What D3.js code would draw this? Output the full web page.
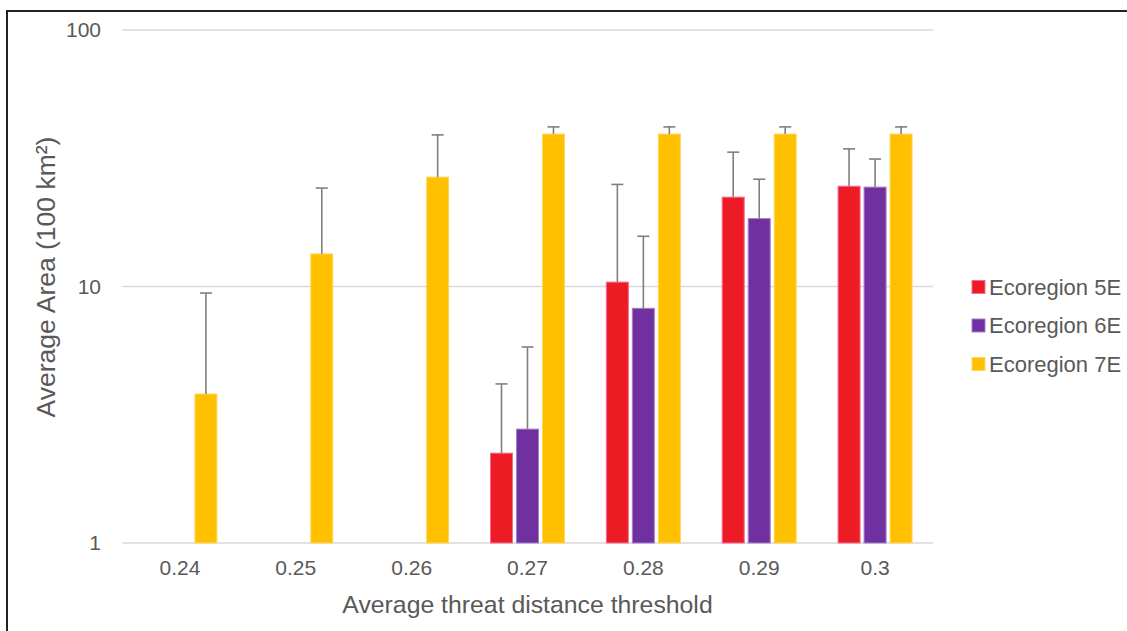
<!DOCTYPE html>
<html><head><meta charset="utf-8">
<script src="https://cdn.jsdelivr.net/npm/d3@7"></script>
<style>body{margin:0;background:#fff;}svg{display:block;font-family:"Liberation Sans",Arial,sans-serif;}</style>
</head><body>
<svg id="c" width="1127" height="631"></svg>
<script>
const categories = ["0.24","0.25","0.26","0.27","0.28","0.29","0.3"];
const seriesNames = ["Ecoregion 5E","Ecoregion 6E","Ecoregion 7E"];
const eco5 = [null,null,null,2.24,10.4,22.3,24.6];
const eco5Err = [null,null,null,1.93,14.6,11.1,9.8];
const eco6 = [null,null,null,2.78,8.22,18.4,24.4];
const eco6Err = [null,null,null,3.03,7.48,7.8,7.0];
const eco7 = [3.81,13.4,26.7,39.3,39.3,39.3,39.3];
const eco7Err = [5.62,10.8,12.3,2.6,2.6,2.6,2.6];
const yTicks = [1,10,100];
const colors = ["#ED1C24","#7030A0","#FFC000"];
const strokes = ["#f46a96","#a57fc9","#ffd75e"];

const svg = d3.select("#c");
const L=122,R=933,T=30,B=543;
// frame
svg.append("line").attr("x1",7).attr("x2",7).attr("y1",10).attr("y2",631).attr("stroke","#222").attr("stroke-width",2);
svg.append("line").attr("x1",6).attr("x2",1127).attr("y1",11).attr("y2",11).attr("stroke","#222").attr("stroke-width",2);

const x = d3.scaleBand().domain(categories).range([L,R]);
const x1 = d3.scaleBand().domain(seriesNames).range([0,78]);
const y = d3.scaleLog().domain([1,100]).range([B,T]);

// gridlines
svg.append("g").selectAll("line").data(yTicks).join("line")
  .attr("x1",L).attr("x2",R).attr("y1",d=>y(d)).attr("y2",d=>y(d))
  .attr("stroke","#d9d9d9").attr("stroke-width",1.5);

// y axis labels
const ya = svg.append("g").attr("transform",`translate(${L},0)`)
  .call(d3.axisLeft(y).tickValues(yTicks).tickFormat(d3.format("d")).tickSize(0).tickPadding(21));
ya.select(".domain").remove();
ya.selectAll("text").attr("font-size",21).attr("fill","#595959").attr("font-family","Liberation Sans, Arial, sans-serif");

// x axis labels
const xa = svg.append("g").attr("transform",`translate(0,${B})`)
  .call(d3.axisBottom(x).tickSize(0).tickPadding(17));
xa.select(".domain").remove();
xa.selectAll("text").attr("font-size",21).attr("fill","#595959").attr("font-family","Liberation Sans, Arial, sans-serif");

const data = [ [eco5,eco5Err], [eco6,eco6Err], [eco7,eco7Err] ];
const barW = 22;
data.forEach(([vals,errs],si)=>{
  const g = svg.append("g");
  const pts = categories.map((c,i)=>({c,v:vals[i],e:errs[i]})).filter(d=>d.v!=null);
  const bx = d=> x(d.c)+x.bandwidth()/2-39+x1(seriesNames[si])+2;
  g.selectAll("rect").data(pts).join("rect")
    .attr("x",bx).attr("width",barW)
    .attr("y",d=>y(d.v)).attr("height",d=>B-y(d.v))
    .attr("fill",colors[si]).attr("stroke",strokes[si]).attr("stroke-width",1);
  const eg = svg.append("g").attr("stroke","#7f7f7f").attr("stroke-width",1.6);
  eg.selectAll("line.v").data(pts).join("line").attr("class","v")
    .attr("x1",d=>bx(d)+barW/2).attr("x2",d=>bx(d)+barW/2)
    .attr("y1",d=>y(d.v)).attr("y2",d=>y(d.v+d.e));
  eg.selectAll("line.c").data(pts).join("line").attr("class","c")
    .attr("x1",d=>bx(d)+barW/2-6).attr("x2",d=>bx(d)+barW/2+6)
    .attr("y1",d=>y(d.v+d.e)).attr("y2",d=>y(d.v+d.e));
});

// axis titles
svg.append("text").attr("x",(L+R)/2).attr("y",613).attr("text-anchor","middle")
  .attr("font-size",24.8).attr("fill","#595959").text("Average threat distance threshold");
svg.append("text").attr("transform",`translate(55,277) rotate(-90)`).attr("text-anchor","middle")
  .attr("font-size",26.5).attr("fill","#595959").text("Average Area (100 km²)");

// legend
const lg = svg.append("g");
seriesNames.forEach((n,i)=>{
  const yy = 287 + i*38.5;
  lg.append("rect").attr("x",972).attr("y",yy-6.5).attr("width",13).attr("height",13)
    .attr("fill",colors[i]).attr("stroke",strokes[i]).attr("stroke-width",1);
  lg.append("text").attr("x",989).attr("y",yy).attr("dy","0.35em")
    .attr("font-size",22).attr("fill","#595959").text(n);
});
</script>
</body></html>
